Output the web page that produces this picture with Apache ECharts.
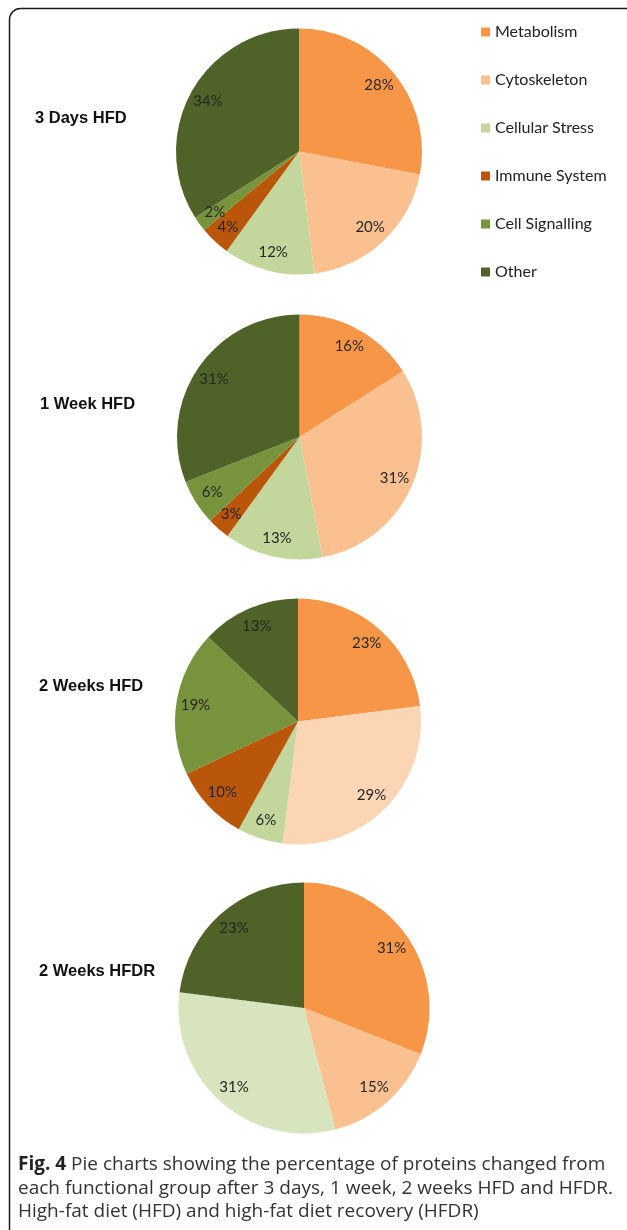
<!DOCTYPE html>
<html>
<head>
<meta charset="utf-8">
<script src="https://cdn.jsdelivr.net/npm/echarts@6/dist/echarts.min.js"></script>
<style>
  html, body { margin: 0; padding: 0; background: #fff; }
  #chart { width: 627px; height: 1230px; }
</style>
</head>
<body>
<div id="chart"></div>
<script>
// Functional groups of changed proteins
const categories = ['Metabolism', 'Cytoskeleton', 'Cellular Stress', 'Immune System', 'Cell Signalling', 'Other'];
const groupColors = ['#F79646', '#FAC090', '#C3D69B', '#B9560A', '#77933C', '#4F6228'];

// Percentage of proteins per group, one array per time point
const threeDaysHFD = [28, 20, 12, 4, 2, 34];
const oneWeekHFD = [16, 31, 13, 3, 6, 31];
const twoWeeksHFD = [23, 29, 6, 10, 19, 13];
const twoWeeksHFDR = [31, 15, 31, 0, 0, 23];

const panelTitles = ['3 Days HFD', '1 Week HFD', '2 Weeks HFD', '2 Weeks HFDR'];

// Per-panel colour overrides (lighter shades used in some panels)
const colorOverrides = [{}, {}, { 1: '#FCD5B5' }, { 2: '#D7E4BD' }];

const panels = [
  { values: threeDaysHFD, center: [299, 151.5], r: 123, titleY: 117, titleX: 35 },
  { values: oneWeekHFD, center: [299.5, 437], r: 122.5, titleY: 403, titleX: 40 },
  { values: twoWeeksHFD, center: [298, 721.5], r: 123, titleY: 685, titleX: 39 },
  { values: twoWeeksHFDR, center: [304, 1008], r: 125.5, titleY: 970, titleX: 39 }
];

function buildData(values, overrides) {
  const out = [];
  values.forEach(function (v, i) {
    if (v > 0) {
      out.push({
        name: categories[i],
        value: v,
        itemStyle: { color: overrides[i] || groupColors[i] }
      });
    }
  });
  return out;
}

const series = [];
const graphics = [];

panels.forEach(function (p, k) {
  const data = buildData(p.values, colorOverrides[k]);
  // filled slices
  series.push({
    type: 'pie',
    center: p.center,
    radius: [0, p.r],
    startAngle: 90,
    clockwise: true,
    silent: true,
    animation: false,
    label: { show: false },
    labelLine: { show: false },
    itemStyle: { borderWidth: 0 },
    data: data
  });
  // transparent ring that carries the percentage labels near the rim
  series.push({
    type: 'pie',
    center: p.center,
    radius: [p.r * 0.64, p.r],
    startAngle: 90,
    clockwise: true,
    silent: true,
    animation: false,
    avoidLabelOverlap: false,
    minShowLabelAngle: 0,
    itemStyle: { color: 'rgba(0,0,0,0)', borderWidth: 0 },
    label: {
      show: true,
      position: 'inside',
      formatter: '{c}%',
      fontFamily: 'Lato, "Open Sans", sans-serif',
      fontSize: 15,
      color: '#262626'
    },
    labelLayout: { hideOverlap: false },
    labelLine: { show: false },
    emphasis: { disabled: true },
    data: data.map(function (d) { return { name: d.name, value: d.value }; })
  });
  graphics.push({
    type: 'text',
    left: p.titleX,
    top: p.titleY - 7,
    style: {
      text: panelTitles[k],
      font: 'bold 16.5px "Liberation Sans", Arial, sans-serif',
      fill: '#111'
    }
  });
});

// figure frame
graphics.unshift({
  type: 'rect',
  shape: { x: 9.5, y: 8.5, width: 630, height: 1235, r: 11 },
  style: { fill: 'none', stroke: '#1a1a1a', lineWidth: 1.5 },
  z: -1
});

// caption
graphics.push({
  type: 'text',
  left: 18,
  top: 1153,
  style: {
    text: '{b|Fig. 4} Pie charts showing the percentage of proteins changed from\neach functional group after 3 days, 1 week, 2 weeks HFD and HFDR.\nHigh-fat diet (HFD) and high-fat diet recovery (HFDR)',
    fontFamily: '"Open Sans", sans-serif',
    fontSize: 19,
    lineHeight: 23.5,
    fill: '#333',
    rich: {
      b: { fontFamily: '"Open Sans", sans-serif', fontWeight: 'bold', fontSize: 19, lineHeight: 23.5, fill: '#222' }
    }
  }
});

const chart = echarts.init(document.getElementById('chart'), null, { renderer: 'canvas' });
chart.setOption({
  backgroundColor: '#fff',
  animation: false,
  legend: {
    orient: 'vertical',
    left: 476,
    top: 19,
    icon: 'rect',
    itemWidth: 9,
    itemHeight: 9,
    itemGap: 32,
    selectedMode: false,
    textStyle: {
      fontFamily: 'Lato, "Open Sans", sans-serif',
      fontSize: 16,
      lineHeight: 16,
      color: '#222'
    },
    data: categories.map(function (c, i) {
      return { name: c, itemStyle: { color: groupColors[i] } };
    })
  },
  series: series,
  graphic: graphics
});
</script>
</body>
</html>
